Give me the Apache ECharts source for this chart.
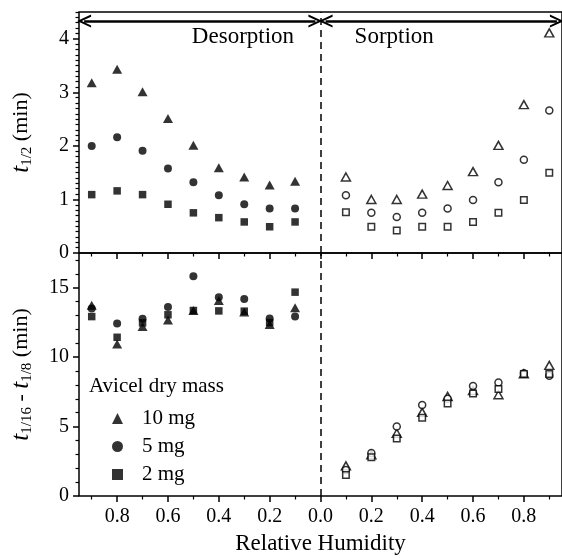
<!DOCTYPE html>
<html>
<head>
<meta charset="utf-8">
<script src="https://cdn.jsdelivr.net/npm/echarts@6/dist/echarts.min.js"></script>
<style>
  html, body { margin: 0; padding: 0; background: #fff; }
  #chart { width: 562px; height: 558px; }
</style>
</head>
<body>
<div id="chart"></div>
<script>
const FONT = '"Liberation Serif", "Times New Roman", serif';

// Relative humidity steps (desorption runs from wet to dry, sorption from dry to wet)
const rhDesorption = [0.9, 0.8, 0.7, 0.6, 0.5, 0.4, 0.3, 0.2, 0.1];
const rhSorption = [0.1, 0.2, 0.3, 0.4, 0.5, 0.6, 0.7, 0.8, 0.9];

// t1/2 (min) during desorption
const halfDes10 = [3.18, 3.43, 3.01, 2.51, 2.01, 1.59, 1.42, 1.27, 1.34];
const halfDes5 = [2.00, 2.16, 1.91, 1.58, 1.32, 1.08, 0.91, 0.83, 0.83];
const halfDes2 = [1.09, 1.16, 1.09, 0.91, 0.75, 0.66, 0.58, 0.49, 0.58];

// t1/2 (min) during sorption
const halfSor10 = [1.42, 1.00, 1.00, 1.10, 1.26, 1.52, 2.01, 2.77, 4.11];
const halfSor5 = [1.08, 0.75, 0.67, 0.75, 0.83, 0.99, 1.32, 1.74, 2.66];
const halfSor2 = [0.76, 0.49, 0.42, 0.49, 0.49, 0.58, 0.75, 0.99, 1.50];

// t1/16 - t1/8 (min) during desorption
const tailDes10 = [13.74, 10.95, 12.20, 12.68, 13.36, 14.08, 13.26, 12.35, 13.55];
const tailDes5 = [13.50, 12.42, 12.76, 13.62, 15.83, 14.32, 14.18, 12.78, 12.92];
const tailDes2 = [12.92, 11.43, 12.47, 13.05, 13.36, 13.33, 13.31, 12.49, 14.68];

// t1/16 - t1/8 (min) during sorption
const tailSor10 = [2.17, 2.96, 4.52, 6.02, 7.17, 7.60, 7.29, 8.80, 9.41];
const tailSor5 = [1.88, 3.10, 5.00, 6.55, 7.00, 7.92, 8.18, 8.84, 8.66];
const tailSor2 = [1.52, 2.79, 4.14, 5.63, 6.67, 7.39, 7.70, 8.78, 8.78];

// Axis ticks (desorption side is mirrored to negative x)
const xMajorTicks = [-0.8, -0.6, -0.4, -0.2, 0, 0.2, 0.4, 0.6, 0.8];
const xMinorTicks = [-0.9, -0.7, -0.5, -0.3, -0.1, 0.1, 0.3, 0.5, 0.7, 0.9];
const halfMajorTicks = [0, 1, 2, 3, 4];
const tailMajorTicks = [0, 5, 10, 15];

const legendTitle = 'Avicel dry mass';
const massNames = ['10 mg', '5 mg', '2 mg'];

function minorSteps(maxIndex, step, every) {
  const out = [];
  for (let i = 1; i <= maxIndex; i++) {
    if (i % every !== 0) out.push(+(i * step).toFixed(3));
  }
  return out;
}
const halfMinorTicks = minorSteps(45, 0.1, 10);
const tailMinorTicks = minorSteps(17, 1, 5);

const black = '#000';

function pairs(rh, values, mirror) {
  return rh.map((r, i) => [mirror ? -r : r, values[i]]);
}

function xAxisPair(gridIndex, withLabels) {
  const base = {
    type: 'value', gridIndex, min: -0.95, max: 0.95, position: 'bottom',
    splitLine: { show: false }, axisLine: { show: false, onZero: false }
  };
  const major = Object.assign({}, base, {
    axisTick: { show: true, inside: false, customValues: xMajorTicks, length: 6, lineStyle: { color: black, width: 1.5 } },
    axisLabel: withLabels ? {
      show: true, customValues: xMajorTicks, margin: 11,
      formatter: v => Math.abs(v).toFixed(1),
      color: black, fontFamily: FONT, fontSize: 20
    } : { show: false }
  });
  if (withLabels) {
    major.name = 'Relative Humidity';
    major.nameLocation = 'middle';
    major.nameGap = 36;
    major.nameTextStyle = { color: black, fontFamily: FONT, fontSize: 23 };
  }
  const minor = Object.assign({}, base, {
    axisTick: { show: true, inside: false, customValues: xMinorTicks, length: 3.5, lineStyle: { color: black, width: 1.2 } },
    axisLabel: { show: false }
  });
  return [major, minor];
}

function yAxisPair(gridIndex, max, majors, minors, name) {
  const base = {
    type: 'value', gridIndex, min: 0, max, position: 'left',
    splitLine: { show: false }, axisLine: { show: false, onZero: false }
  };
  const major = Object.assign({}, base, {
    axisTick: { show: true, inside: false, customValues: majors, length: 6, lineStyle: { color: black, width: 1.5 } },
    axisLabel: { show: true, customValues: majors, margin: 10, color: black, fontFamily: FONT, fontSize: 20 },
    name, nameLocation: 'middle', nameGap: 44, nameRotate: 90,
    nameTextStyle: {
      color: black, fontFamily: FONT, fontSize: 22,
      rich: {
        i: { color: black, fontFamily: FONT, fontSize: 25, fontStyle: 'italic' },
        s: { color: black, fontFamily: FONT, fontSize: 15, padding: [12, 0, 0, 0] },
        n: { color: black, fontFamily: FONT, fontSize: 22 }
      }
    }
  });
  const minor = Object.assign({}, base, {
    axisTick: { show: true, inside: false, customValues: minors, length: 3.5, lineStyle: { color: black, width: 1.2 } },
    axisLabel: { show: false }
  });
  return [major, minor];
}

function scatter(name, data, xi, yi, symbol, size, filled) {
  return {
    type: 'scatter', name, data,
    xAxisIndex: xi, yAxisIndex: yi,
    symbol, symbolSize: size,
    itemStyle: filled
      ? { color: black }
      : { color: '#fff', borderColor: black, borderWidth: 1.5 },
    emphasis: { disabled: true },
    z: 5
  };
}

const triFilled = [10, 9], cirFilled = 8, sqFilled = 7.5;
const triOpen = [9, 8], cirOpen = 7, sqOpen = 6.5;

const chevron = 'path://M0,12 L6,0 L12,12 L10,12 L6,4 L2,12 Z';
const dashed = {
  silent: true, animation: false, symbol: ['none', 'none'],
  label: { show: false },
  lineStyle: { color: black, type: [7, 5], width: 1.5 },
  data: [{ xAxis: 0 }]
};

const desTop10 = scatter(massNames[0], pairs(rhDesorption, halfDes10, true), 0, 0, 'triangle', triFilled, true);
desTop10.markLine = dashed;
const desTop5 = scatter(massNames[1], pairs(rhDesorption, halfDes5, true), 0, 0, 'circle', cirFilled, true);
desTop5.markLine = {
  silent: true, animation: false,
  symbol: [chevron, chevron], symbolSize: [13, 14],
  label: { show: false },
  lineStyle: { color: black, type: 'solid', width: 2.5 },
  data: [
    [{ coord: [-0.93, 4.33] }, { coord: [-0.02, 4.33] }],
    [{ coord: [0.02, 4.33] }, { coord: [0.93, 4.33] }]
  ]
};
const desTop2 = scatter(massNames[2], pairs(rhDesorption, halfDes2, true), 0, 0, 'rect', sqFilled, true);
desTop2.markPoint = {
  silent: true, animation: false, symbol: 'circle', symbolSize: 0,
  label: { show: true, position: 'inside', color: black, fontFamily: FONT, fontSize: 23 },
  data: [
    { coord: [-0.305, 4.03], label: { formatter: 'Desorption' } },
    { coord: [0.29, 4.03], label: { formatter: 'Sorption' } }
  ]
};

const desBot10 = scatter(massNames[0], pairs(rhDesorption, tailDes10, true), 2, 2, 'triangle', triFilled, true);
desBot10.markLine = dashed;

const option = {
  animation: false,
  backgroundColor: '#fff',
  grid: [
    { left: 79, top: 12, width: 488, height: 241, show: true, borderColor: black, borderWidth: 1.5, backgroundColor: 'transparent' },
    { left: 79, top: 253, width: 488, height: 243, show: true, borderColor: black, borderWidth: 1.5, backgroundColor: 'transparent' }
  ],
  xAxis: [...xAxisPair(0, false), ...xAxisPair(1, true)],
  yAxis: [
    ...yAxisPair(0, 4.5, halfMajorTicks, halfMinorTicks, '{i|t}{s|1/2} (min)'),
    ...yAxisPair(1, 17.5, tailMajorTicks, tailMinorTicks, '{i|t}{s|1/16} - {i|t}{s|1/8} (min)')
  ],
  legend: {
    data: massNames, orient: 'vertical', left: 107, top: 403,
    itemWidth: 11, itemHeight: 11, itemGap: 7, selectedMode: false,
    textStyle: { color: black, fontFamily: FONT, fontSize: 21, lineHeight: 21, padding: [0, 0, 0, 14] }
  },
  graphic: [
    { type: 'text', left: 89, top: 376, style: { text: legendTitle, fill: black, font: '21px ' + FONT } }
  ],
  series: [
    desTop10, desTop5, desTop2,
    scatter('10 mg sorption', pairs(rhSorption, halfSor10, false), 0, 0, 'triangle', triOpen, false),
    scatter('5 mg sorption', pairs(rhSorption, halfSor5, false), 0, 0, 'circle', cirOpen, false),
    scatter('2 mg sorption', pairs(rhSorption, halfSor2, false), 0, 0, 'rect', sqOpen, false),
    desBot10,
    scatter(massNames[1], pairs(rhDesorption, tailDes5, true), 2, 2, 'circle', cirFilled, true),
    scatter(massNames[2], pairs(rhDesorption, tailDes2, true), 2, 2, 'rect', sqFilled, true),
    scatter('10 mg sorption', pairs(rhSorption, tailSor10, false), 2, 2, 'triangle', triOpen, false),
    scatter('5 mg sorption', pairs(rhSorption, tailSor5, false), 2, 2, 'circle', cirOpen, false),
    scatter('2 mg sorption', pairs(rhSorption, tailSor2, false), 2, 2, 'rect', sqOpen, false)
  ]
};

const chart = echarts.init(document.getElementById('chart'), null, { renderer: 'canvas' });
chart.setOption(option);
</script>
</body>
</html>
